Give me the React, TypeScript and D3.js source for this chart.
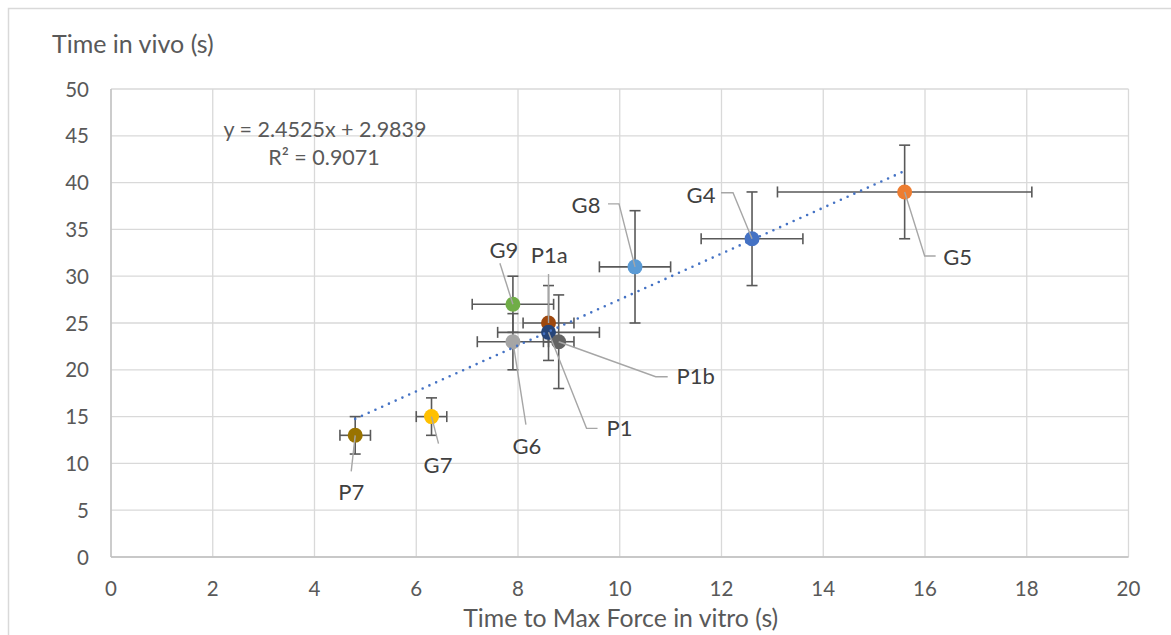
import React from "react";
import * as d3 from "d3";

// ---- data ----
const categories = ["P7", "G7", "G9", "G6", "P1a", "P1", "P1b", "G8", "G4", "G5"];
const xValues = [4.8, 6.3, 7.9, 7.9, 8.6, 8.6, 8.8, 10.3, 12.6, 15.6];
const yValues = [13, 15, 27, 23, 25, 24, 23, 31, 34, 39];
const xErrors = [0.3, 0.3, 0.8, 0.7, 0.5, 1.0, 0.3, 0.7, 1.0, 2.5];
const yErrors = [2, 2, 3, 3, 4, 1, 5, 6, 5, 5];
const xTicks = [0, 2, 4, 6, 8, 10, 12, 14, 16, 18, 20];
const yTicks = [0, 5, 10, 15, 20, 25, 30, 35, 40, 45, 50];
const trendSlope = 2.4525;
const trendIntercept = 2.9839;
const rSquared = 0.9071;

// ---- styles / layout ----
const colors: Record<string, string> = {
  P7: "#997300", G7: "#FFC000", G9: "#70AD47", G6: "#A5A5A5", P1a: "#9E480E",
  P1: "#264478", P1b: "#636363", G8: "#5B9BD5", G4: "#4472C4", G5: "#ED7D31",
};
// label centre offset from point (px) and leader-line path offsets from point (px)
const labelLayout: Record<string, { lx: number; ly: number; leader: [number, number][] }> = {
  P7: { lx: -4, ly: 57, leader: [[0, 0], [-4, 36]] },
  G7: { lx: 6.5, ly: 48, leader: [[0, 0], [7, 27]] },
  G9: { lx: -9, ly: -54, leader: [[0, 0], [-13, -41]] },
  G6: { lx: 14, ly: 104, leader: [[0, 0], [13, 83]] },
  P1a: { lx: 0.7, ly: -68, leader: [[0, 0], [0, -49]] },
  P1: { lx: 71, ly: 96, leader: [[0, 0], [38, 96], [49, 96]] },
  P1b: { lx: 137, ly: 34, leader: [[0, 0], [97, 35], [109, 35]] },
  G8: { lx: -49, ly: -62, leader: [[0, 0], [-16, -63], [-27, -63]] },
  G4: { lx: -51, ly: -44, leader: [[0, 0], [-19, -46], [-31, -46]] },
  G5: { lx: 53, ly: 65, leader: [[0, 0], [20, 64], [31, 64]] },
};

const W = 1171;
const H = 635;
const margin = { left: 111, right: 1128.5, top: 89, bottom: 557 };
const FONT = "Lato, 'Open Sans', sans-serif";

export default function App() {
  const x = d3.scaleLinear().domain([0, 20]).range([margin.left, margin.right]);
  const y = d3.scaleLinear().domain([0, 50]).range([margin.bottom, margin.top]);
  const line = d3.line<[number, number]>().x((d) => d[0]).y((d) => d[1]);

  const xMin = d3.min(xValues) as number;
  const xMax = d3.max(xValues) as number;
  const trendPts: [number, number][] = [xMin, xMax].map((v) => [x(v), y(trendSlope * v + trendIntercept)]);

  const capX = 5.5;
  const capY = 5.5;
  const ebColor = "#595959";

  return (
    <svg width={W} height={H} style={{ position: "absolute", left: 0, top: 0, background: "#fff" }} fontFamily={FONT}>
      <rect x={8.5} y={8.5} width={W + 20} height={H + 20} fill="#fff" stroke="#D9D9D9" strokeWidth={1.5} />
      {/* grid */}
      {xTicks.map((t) => (
        <line key={"gx" + t} x1={x(t)} x2={x(t)} y1={margin.top} y2={margin.bottom} stroke="#D9D9D9" strokeWidth={1.3} />
      ))}
      {yTicks.map((t) => (
        <line key={"gy" + t} x1={margin.left} x2={margin.right} y1={y(t)} y2={y(t)} stroke="#D9D9D9" strokeWidth={1.3} />
      ))}
      <line x1={margin.left} x2={margin.left} y1={margin.top} y2={margin.bottom} stroke="#BFBFBF" strokeWidth={1.3} />
      <line x1={margin.left} x2={margin.right} y1={margin.bottom} y2={margin.bottom} stroke="#BFBFBF" strokeWidth={1.3} />
      {/* tick labels */}
      {yTicks.map((t) => (
        <text key={"ty" + t} x={89} y={y(t) + 7.5} textAnchor="end" fontSize={20.5} fill="#595959">
          {t}
        </text>
      ))}
      {xTicks.map((t) => (
        <text key={"tx" + t} x={x(t)} y={596} textAnchor="middle" fontSize={20.5} fill="#595959">
          {t}
        </text>
      ))}
      <text x={52} y={53} fontSize={25} fill="#595959">Time in vivo (s)</text>
      <text x={(margin.left + margin.right) / 2 + 1} y={627} textAnchor="middle" fontSize={24.8} fill="#595959">
        Time to Max Force in vitro (s)
      </text>
      {/* error bars */}
      {categories.map((c, i) => {
        const cx = x(xValues[i]);
        const cy = y(yValues[i]);
        const x0 = x(xValues[i] - xErrors[i]);
        const x1 = x(xValues[i] + xErrors[i]);
        const y0 = y(yValues[i] - yErrors[i]);
        const y1 = y(yValues[i] + yErrors[i]);
        return (
          <g key={"eb" + c} stroke={ebColor} strokeWidth={1.6} fill="none">
            <line x1={x0} x2={x1} y1={cy} y2={cy} />
            <line x1={x0} x2={x0} y1={cy - capY} y2={cy + capY} />
            <line x1={x1} x2={x1} y1={cy - capY} y2={cy + capY} />
            <line x1={cx} x2={cx} y1={y0} y2={y1} />
            <line x1={cx - capX} x2={cx + capX} y1={y0} y2={y0} />
            <line x1={cx - capX} x2={cx + capX} y1={y1} y2={y1} />
          </g>
        );
      })}
      {/* markers */}
      {categories.map((c, i) => (
        <circle key={"m" + c} cx={x(xValues[i])} cy={y(yValues[i])} r={7.5} fill={colors[c]} />
      ))}
      {/* trendline */}
      <path d={line(trendPts) || ""} stroke="#4472C4" strokeWidth={2.6} strokeDasharray="0 7.4" strokeLinecap="round" fill="none" />
      {/* leader lines & labels */}
      {categories.map((c, i) => {
        const cx = x(xValues[i]);
        const cy = y(yValues[i]);
        const L = labelLayout[c];
        const pts = L.leader.map(([dx, dy]) => [cx + dx, cy + dy] as [number, number]);
        return (
          <g key={"lb" + c}>
            <path d={line(pts) || ""} stroke="#A6A6A6" strokeWidth={1.4} fill="none" />
            <text x={cx + L.lx} y={cy + L.ly + 8} textAnchor="middle" fontSize={22} fill="#404040">
              {c}
            </text>
          </g>
        );
      })}
      {/* equation */}
      <text x={325} y={136.5} textAnchor="middle" fontSize={21.5} fill="#595959">
        {`y = ${trendSlope}x + ${trendIntercept}`}
      </text>
      <text x={324} y={165} textAnchor="middle" fontSize={21.5} fill="#595959">
        {`R² = ${rSquared}`}
      </text>
    </svg>
  );
}
